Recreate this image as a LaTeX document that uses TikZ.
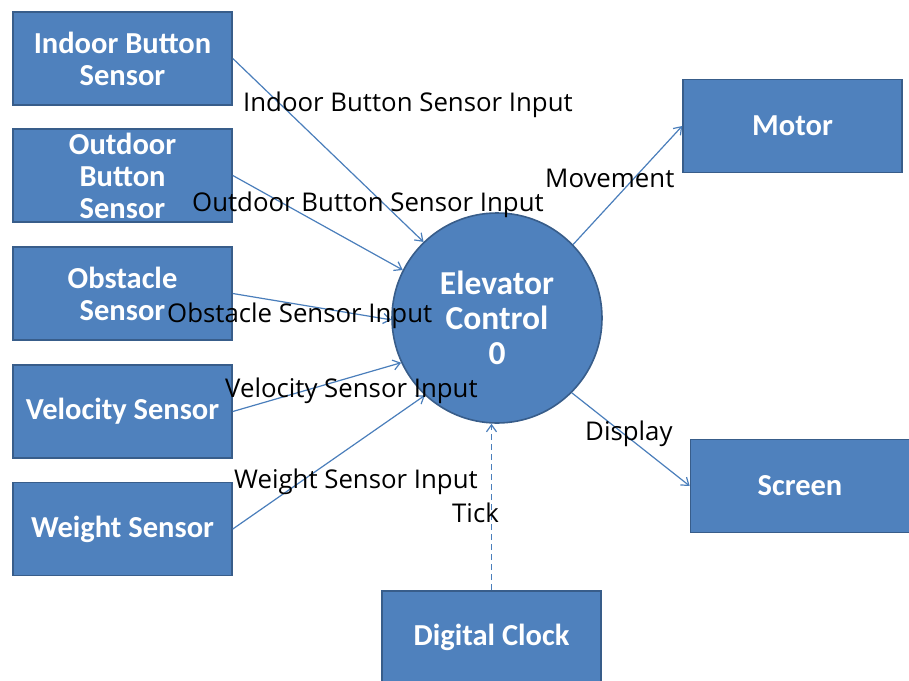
\documentclass[tikz,border=0pt]{standalone}
\usepackage{fontspec}
\setmainfont{Carlito}
\newfontfamily\labelfont{Open Sans}
\usetikzlibrary{arrows.meta}
\definecolor{boxfill}{HTML}{4F81BD}
\definecolor{boxline}{HTML}{385D8A}
\definecolor{flow}{HTML}{4A7EBB}
\begin{document}
\begin{tikzpicture}[x=1pt,y=-1pt,
  entity/.style={draw=boxline,line width=1.6pt,fill=boxfill,text=white,
    font=\fontsize{30.5}{32}\selectfont\bfseries,align=center,
    minimum width=219pt,minimum height=93pt,inner sep=0pt},
  process/.style={circle,draw=boxline,line width=1.6pt,fill=boxfill,text=white,
    font=\fontsize{33.5}{35}\selectfont\bfseries,align=center,
    minimum size=210pt,inner sep=0pt},
  flowline/.style={draw=flow,line width=1.2pt,-{Straight Barb[length=7pt,width=10pt]}},
  flowlabel/.style={font=\labelfont\fontsize{25.8}{30}\selectfont,text=black,anchor=base west,inner sep=0pt}]
\useasboundingbox (0,0) rectangle (909,680);
% external entities
\node[entity] (ibs) at (122.5,58.5) {Indoor Button\\Sensor};
\node[entity] (obs) at (122.5,175.5) {Outdoor\\Button\\Sensor};
\node[entity] (ost) at (122.5,293.5) {Obstacle\\Sensor};
\node[entity] (vel) at (122.5,411.5) {Velocity Sensor};
\node[entity] (wgt) at (122.5,529) {Weight Sensor};
\node[entity] (mot) at (792.5,126) {Motor};
\node[entity] (scr) at (800,486) {Screen};
\node[entity] (clk) at (491.5,637.5) {Digital Clock};
% the process
\node[process] (ec) at (497,318) {Elevator\\Control\\0};
% data flows
\draw[flowline] (ibs.east) -- (ec.134);
\draw[flowline] (obs.east) -- (ec.153);
\draw[flowline] (ost.east) -- (ec.181);
\draw[flowline] (vel.east) -- (ec.205);
\draw[flowline] (wgt.east) -- (ec.227);
\draw[flowline] (ec.44) -- (mot.west);
\draw[flowline] (ec.-45) -- (scr.west);
\draw[flowline,dashed,dash pattern=on 6pt off 4pt] (clk.north) -- (clk.north |- ec.south);
% flow labels
\node[flowlabel] (lib) at (243,111) {Indoor Button Sensor Input};
\node[flowlabel] (lob) at (192,211) {Outdoor Button Sensor Input};
\node[flowlabel] (lost) at (167,322) {Obstacle Sensor Input};
\node[flowlabel] (lvel) at (225,397) {Velocity Sensor Input};
\node[flowlabel] (lwgt) at (234,488) {Weight Sensor Input};
\node[flowlabel] (ltick) at (452,522) {Tick};
\node[flowlabel] (lmov) at (545,187) {Movement};
\node[flowlabel] (ldis) at (585,440) {Display};
\end{tikzpicture}
\end{document}
